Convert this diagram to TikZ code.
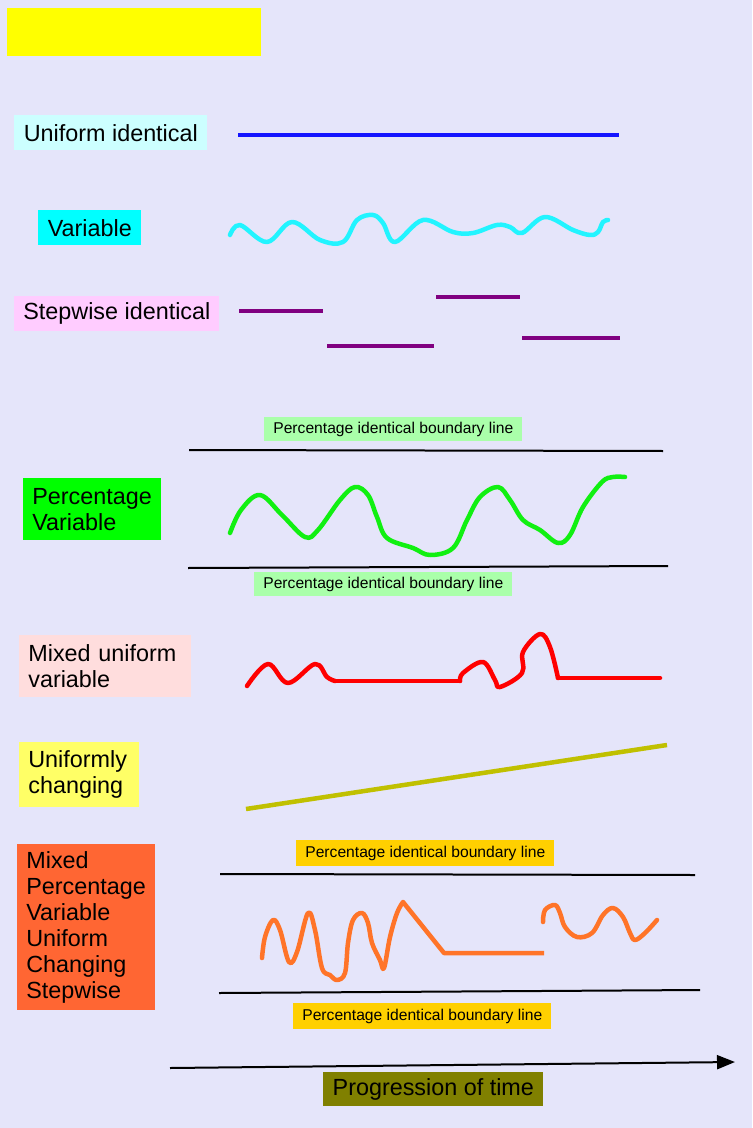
\documentclass[tikz,border=0pt]{standalone}
\usepackage{fontspec}
\setmainfont{Liberation Sans}
\usetikzlibrary{arrows.meta}

\definecolor{pagebg}{HTML}{E5E5FA}
\definecolor{titlefill}{HTML}{FFFF00}
\definecolor{uniformfill}{HTML}{CCFFFF}
\definecolor{cyanfill}{HTML}{00FFFF}
\definecolor{stepfill}{HTML}{FFCCFF}
\definecolor{greenfill}{HTML}{00FF00}
\definecolor{tagGreen}{HTML}{AAFFAA}
\definecolor{mixfill}{HTML}{FFDDDD}
\definecolor{changefill}{HTML}{FFFF66}
\definecolor{allfill}{HTML}{FF6633}
\definecolor{tagGold}{HTML}{FFD000}
\definecolor{timefill}{HTML}{808000}
\definecolor{blueline}{HTML}{1414FF}
\definecolor{cyanline}{HTML}{22F4FF}
\definecolor{purpleline}{HTML}{800080}
\definecolor{greenline}{HTML}{11F011}
\definecolor{redline}{HTML}{FF0000}
\definecolor{oliveline}{HTML}{C0C000}
\definecolor{orangeline}{HTML}{FF7428}

\begin{document}
\begin{tikzpicture}[x=0.02cm,y=-0.02cm]
        % Define styles for boxes and lines
        \tikzstyle{box} = [rectangle, anchor=north west, inner xsep=0.18cm, inner ysep=0pt, align=left, font=\fontsize{13.3}{14.8}\selectfont]
        \tikzstyle{tag} = [rectangle, anchor=north west, inner sep=0pt, minimum width=5.16cm, text centered, font=\fontsize{8.9}{10}\selectfont]
        \tikzstyle{trace} = [line width=0.09cm, line cap=round, line join=round]
        \tikzstyle{bound} = [line width=0.04cm]
        \tikzstyle{arrow} = [line width=0.04cm, -{Triangle[length=0.36cm,width=0.28cm]}]

        % Page
        \fill[pagebg] (0,0) rectangle (752,1128);
        \useasboundingbox (0,0) rectangle (752,1128);

        % Boxes
        \node[box, fill=titlefill, minimum width=5.08cm, minimum height=0.96cm] (title) at (7,8) {};
        \node[box, fill=uniformfill, minimum width=3.86cm, minimum height=0.70cm] (uniform) at (14,115) {Uniform identical};
        \node[box, fill=cyanfill, minimum width=2.06cm, minimum height=0.70cm] (variable) at (38,210) {Variable};
        \node[box, fill=stepfill, minimum width=4.10cm, minimum height=0.70cm] (stepwise) at (14,296) {Stepwise identical};
        \node[box, fill=greenfill, text width=2.40cm, minimum height=1.24cm] (pctvar) at (23,478) {Percentage\\Variable};
        \node[box, fill=mixfill, text width=3.08cm, minimum height=1.24cm] (mixuv) at (19,635) {Mixed uniform\\variable};
        \node[box, fill=changefill, text width=2.04cm, minimum height=1.30cm] (unichange) at (19,742) {Uniformly\\changing};
        \node[box, fill=allfill, text width=2.40cm, minimum height=3.32cm] (mixall) at (17,844) {Mixed\\Percentage\\Variable\\Uniform\\Changing\\Stepwise};
        \node[box, fill=timefill, minimum width=4.40cm, minimum height=0.68cm] (time) at (323,1072) {Progression of time};

        % Boundary labels
        \node[tag, fill=tagGreen, minimum height=0.48cm] (pcttop) at (264,417) {Percentage identical boundary line};
        \node[tag, fill=tagGreen, minimum height=0.48cm] (pctbot) at (254,572) {Percentage identical boundary line};
        \node[tag, fill=tagGold, minimum height=0.52cm] (alltop) at (296,840) {Percentage identical boundary line};
        \node[tag, fill=tagGold, minimum height=0.52cm] (allbot) at (293,1003) {Percentage identical boundary line};

        % Boundary lines
        \draw[bound] (189,450) -- (663,451);
        \draw[bound] (188,568) -- (668,566);
        \draw[bound] (220,874) -- (695,875);
        \draw[bound] (219,993) -- (700,990);

        % Uniform identical
        \draw[trace, blueline, line cap=butt] (238,135) -- (619,135);

        % Variable
        \draw[trace, cyanline] plot[smooth, tension=0.6] coordinates {(230,235) (240,225) (267,242) (292,222) (320,240) (343,242) (357,220) (373,215) (383,223) (395,242) (423,220) (453,232) (473,233) (497,225) (510,227) (522,233) (545,217) (573,230) (590,235) (598,232) (603,222) (608,220)};

        % Stepwise identical
        \draw[trace, purpleline, line cap=butt] (239,311) -- (323,311);
        \draw[trace, purpleline, line cap=butt] (327,346) -- (434,346);
        \draw[trace, purpleline, line cap=butt] (436,297) -- (520,297);
        \draw[trace, purpleline, line cap=butt] (522,338) -- (620,338);

        % Percentage variable
        \draw[trace, greenline] plot[smooth, tension=0.6] coordinates {(230,533) (241,510) (260,495) (282,515) (305,537) (318,530) (340,500) (355,487) (368,495) (377,517) (387,538) (413,548) (430,555) (453,548) (467,520) (480,497) (498,487) (510,500) (523,520) (540,530) (558,543) (570,535) (583,507) (602,482) (613,477) (625,477)};

        % Mixed uniform variable
        \draw[trace, redline] plot[smooth, tension=0.6] coordinates {(247,686) (268,664) (288,683) (315,664) (327,677) (335,681)};
        \draw[trace, redline] (335,681) -- (460,681);
        \draw[trace, redline] plot[smooth, tension=0.6] coordinates {(460,681) (463,673) (483,662) (495,680) (500,687) (522,673) (523,652) (540,634) (550,647) (558,678)};
        \draw[trace, redline] (558,678) -- (660,678);

        % Uniformly changing
        \draw[trace, oliveline, line cap=butt] (246,809) -- (667,745);

        % Mixed percentage variable uniform changing stepwise
        \draw[trace, orangeline] plot[smooth, tension=0.6] coordinates {(262,958) (265,937) (273,920) (280,930) (289,962) (297,952) (308,913) (315,930) (322,968) (330,975) (337,980) (345,973) (348,943) (353,920) (362,913) (368,923) (372,943) (380,960) (384,968) (390,937) (397,913) (403,902)};
        \draw[trace, orangeline, line cap=butt] (403,902) -- (444,953) -- (544,953);
        \draw[trace, orangeline] plot[smooth, tension=0.6] coordinates {(543,922) (545,910) (555,905) (560,913) (565,927) (577,937) (592,933) (603,915) (613,908) (623,917) (630,933) (635,940) (645,933) (657,920)};

        % Time arrow
        \coordinate (tstart) at (170,1068);
        \coordinate (tend) at (735,1062);
        \draw[arrow] (tstart) -- (tend);
\end{tikzpicture}
\end{document}
